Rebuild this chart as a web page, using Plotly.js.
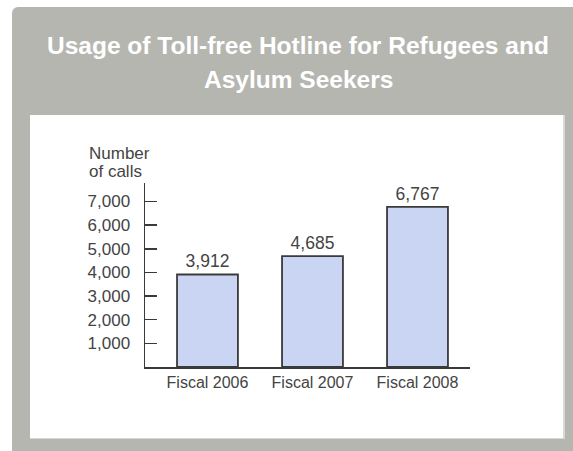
<!DOCTYPE html>
<html>
<head>
<meta charset="utf-8">
<script src="https://cdn.plot.ly/plotly-3.0.1.min.js"></script>
<style>
  html, body { margin:0; padding:0; background:#ffffff; width:573px; height:451px; overflow:hidden; }
  #panel { position:absolute; left:12px; top:7px; width:561px; height:444px; background:#b5b6b0; border-top-left-radius:6px; }
  #inner { position:absolute; left:30px; top:115px; width:533px; height:323px; background:#ffffff; border-right:2px solid #d8d9d4; border-bottom:1px solid #d8d9d4; }
  #chart { position:absolute; left:0; top:0; width:573px; height:451px; }
</style>
</head>
<body>
<div id="panel"></div>
<div id="inner"></div>
<div id="chart"></div>
<script>
const categories = ['Fiscal 2006', 'Fiscal 2007', 'Fiscal 2008'];
const calls = [3912, 4685, 6767];
const yTickValues = [1000, 2000, 3000, 4000, 5000, 6000, 7000];
const yTickLabels = ['1,000', '2,000', '3,000', '4,000', '5,000', '6,000', '7,000'];
const titleLines = ['Usage of Toll-free Hotline for Refugees and', 'Asylum Seekers'];
const yAxisTitleLines = ['Number', 'of calls'];

const font = 'Arial, "Liberation Sans", sans-serif';

const trace = {
  type: 'bar',
  x: categories,
  y: calls,
  width: 0.58,
  marker: { color: '#cad5f3', line: { color: '#3a3a3a', width: 1.8 } },
  text: calls.map(v => v.toLocaleString('en-US')),
  textposition: 'outside',
  textfont: { family: font, size: 17.5, color: '#444444' },
  cliponaxis: false,
  hoverinfo: 'none'
};

const layout = {
  width: 573,
  height: 451,
  margin: { l: 145, r: 103, t: 183, b: 84, pad: 0 },
  paper_bgcolor: 'rgba(0,0,0,0)',
  plot_bgcolor: 'rgba(0,0,0,0)',
  showlegend: false,
  font: { family: font, color: '#444444' },
  xaxis: {
    type: 'category',
    range: [-0.595, 2.5],
    showline: true, linecolor: '#3a3a3a', linewidth: 1.5,
    ticks: '', showgrid: false, zeroline: false,
    tickfont: { family: font, size: 16, color: '#444444' },
    fixedrange: true
  },
  yaxis: {
    range: [0, 7780],
    tickvals: yTickValues,
    ticktext: yTickLabels,
    showline: true, linecolor: '#3a3a3a', linewidth: 1.5,
    ticks: 'inside', ticklen: 12, tickwidth: 1.5, tickcolor: '#3a3a3a',
    ticklabelstandoff: 10,
    showgrid: false, zeroline: false,
    tickfont: { family: font, size: 17, color: '#444444' },
    fixedrange: true
  },
  annotations: [
    { text: titleLines[0], xref: 'paper', yref: 'paper', x: 0.4708, y: 1.7446, xanchor: 'center', yanchor: 'middle', showarrow: false,
      font: { family: font, size: 24.5, color: '#ffffff', weight: 'bold' } },
    { text: titleLines[1], xref: 'paper', yref: 'paper', x: 0.4708, y: 1.5598, xanchor: 'center', yanchor: 'middle', showarrow: false,
      font: { family: font, size: 24.5, color: '#ffffff', weight: 'bold' } },
    { text: yAxisTitleLines[0], xref: 'paper', yref: 'paper', x: -0.1785, y: 1.1630, xanchor: 'left', yanchor: 'middle', align: 'left', showarrow: false,
      font: { family: font, size: 17, color: '#444444' } },
    { text: yAxisTitleLines[1], xref: 'paper', yref: 'paper', x: -0.1785, y: 1.0625, xanchor: 'left', yanchor: 'middle', align: 'left', showarrow: false,
      font: { family: font, size: 17, color: '#444444' } }
  ]
};

Plotly.newPlot('chart', [trace], layout, { displayModeBar: false, staticPlot: true });
</script>
</body>
</html>
